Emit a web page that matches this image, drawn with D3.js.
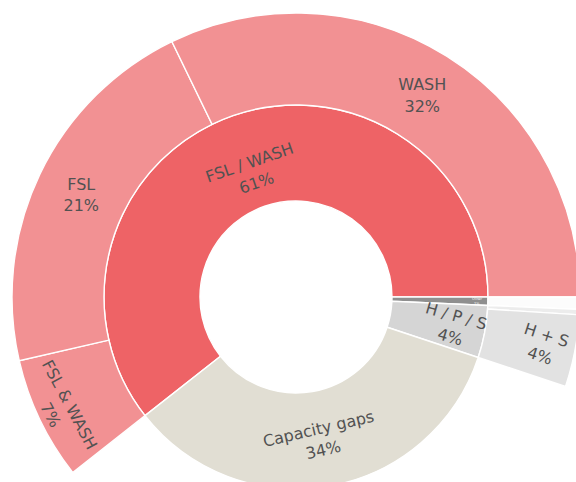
<!DOCTYPE html>
<html>
<head>
<meta charset="utf-8">
<script src="https://cdn.jsdelivr.net/npm/d3@7"></script>
<style>
  html, body { margin: 0; padding: 0; background: #ffffff; overflow: hidden; }
  svg { display: block; }
</style>
</head>
<body>
<svg id="chart" width="576" height="482"></svg>
<script>
// Inner ring: funding categories
const innerLabels = ["FSL / WASH", "Other", "H / P / S", "Capacity gaps"];
const innerOwnValues = [0, 0, 0, 34.3];

// Outer ring: breakdown of each inner category
const outerLabels = ["FSL & WASH", "FSL", "WASH", "Other detail", "H / P / S other", "H + S"];
const outerParents = ["FSL / WASH", "FSL / WASH", "FSL / WASH", "Other", "H / P / S", "H / P / S"];
const outerValues = [7.0, 21.4, 32.2, 0.7, 0.3, 4.1];

// Slices that carry a visible label
const labelled = ["FSL / WASH", "Capacity gaps", "H / P / S", "WASH", "FSL", "FSL & WASH", "H + S", "Other"];

const colors = {
  "FSL / WASH": "#ee6366",
  "Other": "#8f8f8f",
  "H / P / S": "#d5d5d5",
  "Capacity gaps": "#e1ded3",
  "FSL & WASH": "#f29193",
  "FSL": "#f29193",
  "WASH": "#f29193",
  "Other detail": "#fcfcfc",
  "H / P / S other": "#ececec",
  "H + S": "#e2e2e2"
};

// Label placement: radius from centre, rotation in degrees, font size
const labelStyle = {
  "FSL / WASH":    { r: 132, rot: -19, size: 16 },
  "Capacity gaps": { r: 144, rot: -13, size: 16 },
  "H / P / S":     { r: 160, rot: 16,  size: 16 },
  "WASH":          { r: 238, rot: 0,   size: 16 },
  "FSL":           { r: 238, rot: 0,   size: 16 },
  "FSL & WASH":    { r: 261, rot: 62,  size: 16 },
  "H + S":         { r: 252, rot: 18,  size: 16 },
  "Other":         { r: 181, rot: 2,   size: 3.5, fill: "#ffffff" }
};

const svg = d3.select("#chart");
const cx = 296, cy = 297;

// Build the hierarchy
const rows = [{ id: "root", parent: null, value: 0 }];
innerLabels.forEach((l, i) => rows.push({ id: l, parent: "root", value: innerOwnValues[i] }));
outerLabels.forEach((l, i) => rows.push({ id: l, parent: outerParents[i], value: outerValues[i] }));

const root = d3.stratify().id(d => d.id).parentId(d => d.parent)(rows)
  .sum(d => d.value);

d3.partition().size([2 * Math.PI, 3])(root);

const radius = d3.scaleLinear().domain([1, 2, 3]).range([96, 192, 284]);

// Rotate so the first inner category ends at 3 o'clock
const first = root.children[0];
const offset = Math.PI / 2 - first.x1;

const arc = d3.arc()
  .startAngle(d => d.x0 + offset)
  .endAngle(d => d.x1 + offset)
  .innerRadius(d => radius(d.y0))
  .outerRadius(d => radius(d.y1));

const g = svg.append("g").attr("transform", `translate(${cx},${cy})`);

const nodes = root.descendants().filter(d => d.depth > 0);

g.selectAll("path")
  .data(nodes)
  .join("path")
  .attr("d", arc)
  .attr("fill", d => colors[d.id])
  .attr("stroke", "#ffffff")
  .attr("stroke-width", 1.4);

const total = root.value;
const fmt = v => Math.round(v / total * 100) + "%";

const labelNodes = nodes.filter(d => labelled.includes(d.id));

const texts = g.selectAll("text.lbl")
  .data(labelNodes)
  .join("text")
  .attr("class", "lbl")
  .attr("transform", d => {
    const s = labelStyle[d.id];
    const a = (d.x0 + d.x1) / 2 + offset;
    const x = Math.sin(a) * s.r;
    const y = -Math.cos(a) * s.r;
    return `translate(${x},${y}) rotate(${s.rot})`;
  })
  .attr("text-anchor", "middle")
  .attr("font-family", "'DejaVu Sans', Verdana, sans-serif")
  .attr("font-size", d => labelStyle[d.id].size)
  .attr("fill", d => labelStyle[d.id].fill || "#525252");

texts.append("tspan")
  .attr("x", 0)
  .attr("dy", "-0.3em")
  .text(d => d.id);

texts.append("tspan")
  .attr("x", 0)
  .attr("dy", "1.35em")
  .text(d => fmt(d.value));
</script>
</body>
</html>
